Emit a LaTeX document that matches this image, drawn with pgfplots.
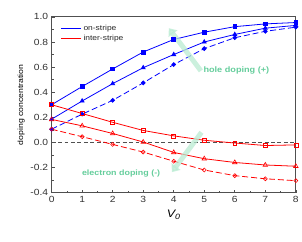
\documentclass[border=0pt]{standalone}
\usepackage{fontspec}
\setmainfont[FakeStretch=1.15]{Liberation Sans}
\usepackage{pgfplots}
\pgfplotsset{compat=1.18}
\usetikzlibrary{arrows.meta}
\definecolor{mintfill}{RGB}{185,235,210}
\definecolor{minttext}{RGB}{100,205,155}
\definecolor{framegray}{RGB}{80,80,80}
\begin{document}
\begin{tikzpicture}
\begin{axis}[
  name=ax,
  scale only axis,
  width=246pt, height=177pt,
  xmin=0, xmax=8, ymin=-0.4, ymax=1.0,
  xtick={0,1,...,8}, ytick={-0.4,-0.2,0,0.2,0.4,0.6,0.8,1.0},
  minor x tick num=1, minor y tick num=1,
  tick pos=left, tick align=inside,
  major tick length=3pt, minor tick length=2pt,
  axis line style={framegray, line width=0.8pt},
  every tick/.style={framegray, line width=0.6pt},
  tick label style={font=\fontsize{9}{10}\selectfont, text=black!80},
  /pgf/number format/assume math mode=true,
  yticklabel style={/pgf/number format/.cd, fixed, fixed zerofill, precision=1},
  xlabel={\fontsize{11}{12}\selectfont\itshape V\textsubscript{0}},
  ylabel={\fontsize{7.6}{9}\selectfont doping concentration},
  ylabel style={yshift=-1pt},
  xlabel style={yshift=-1pt},
  clip=false,
  legend style={draw=none, fill=none, at={(0.025,0.975)}, anchor=north west,
    font=\fontsize{7.4}{9}\selectfont, row sep=-1.5pt, text=black!85},
  legend cell align=left,
  legend image code/.code={\draw[#1] (0pt,0pt) -- (20pt,0pt);},
]
\addlegendimage{blue, line width=0.8pt}
\addlegendentry{on-stripe}
\addlegendimage{red, line width=0.8pt}
\addlegendentry{inter-stripe}

% zero line
\addplot[forget plot, framegray, line width=1.1pt, dash pattern=on 4pt off 2.5pt] coordinates {(0,0) (8,0)};

% on-stripe
\addplot[forget plot, blue, line width=0.8pt, mark=square*, mark size=1.9pt, mark options={solid}] coordinates {
(0,0.300) (1,0.445) (2,0.585) (3,0.720) (4,0.820) (5,0.878) (6,0.922) (7,0.944) (8,0.955)};
\addplot[forget plot, blue, line width=0.8pt, mark=triangle*, mark size=2.2pt, mark options={solid}] coordinates {
(0,0.185) (1,0.330) (2,0.468) (3,0.595) (4,0.700) (5,0.800) (6,0.860) (7,0.910) (8,0.932)};
\addplot[forget plot, blue, line width=0.8pt, dash pattern=on 6pt off 3pt, mark=*, mark size=1.9pt, mark options={solid}] coordinates {
(0,0.105) (1,0.225) (2,0.335) (3,0.474) (4,0.620) (5,0.747) (6,0.834) (7,0.885) (8,0.918)};

% inter-stripe
\addplot[forget plot, red, line width=0.8pt, mark=square, mark size=2pt, mark options={solid, fill=white, line width=0.6pt}] coordinates {
(0,0.300) (1,0.230) (2,0.160) (3,0.095) (4,0.052) (5,0.017) (6,-0.005) (7,-0.025) (8,-0.020)};
\addplot[forget plot, red, line width=0.8pt, mark=triangle, mark size=2.6pt, mark options={solid, fill=white, line width=0.6pt}] coordinates {
(0,0.183) (1,0.132) (2,0.071) (3,0.003) (4,-0.080) (5,-0.130) (6,-0.160) (7,-0.180) (8,-0.190)};
\addplot[forget plot, red, line width=0.8pt, dash pattern=on 6pt off 3pt, mark=o, mark size=2pt, mark options={solid, fill=white, line width=0.6pt}] coordinates {
(0,0.105) (1,0.045) (2,-0.016) (3,-0.077) (4,-0.150) (5,-0.220) (6,-0.265) (7,-0.290) (8,-0.305)};

% arrows
\draw[mintfill, opacity=0.75, line width=5pt, -{Triangle[width=11pt, length=7pt]}]
  (axis cs:4.89,0.57) -- (axis cs:3.84,0.91);
\draw[mintfill, opacity=0.75, line width=5pt, -{Triangle[width=11pt, length=7pt]}]
  (axis cs:4.91,0.08) -- (axis cs:3.94,-0.237);
\node[anchor=west, text=minttext, font=\fontsize{8}{9}\selectfont\bfseries, inner sep=0pt] at (axis cs:4.97,0.57) {hole doping (+)};
\node[anchor=west, text=minttext, font=\fontsize{7.8}{9}\selectfont\bfseries, inner sep=0pt] at (axis cs:0.99,-0.25) {electron doping (-)};
\end{axis}
\path (ax.south west) ++(-52pt,-49pt) coordinate (bl);
\path (ax.north east) ++(4pt,17pt) coordinate (tr);
\path (bl) rectangle (tr);
\end{tikzpicture}
\end{document}
